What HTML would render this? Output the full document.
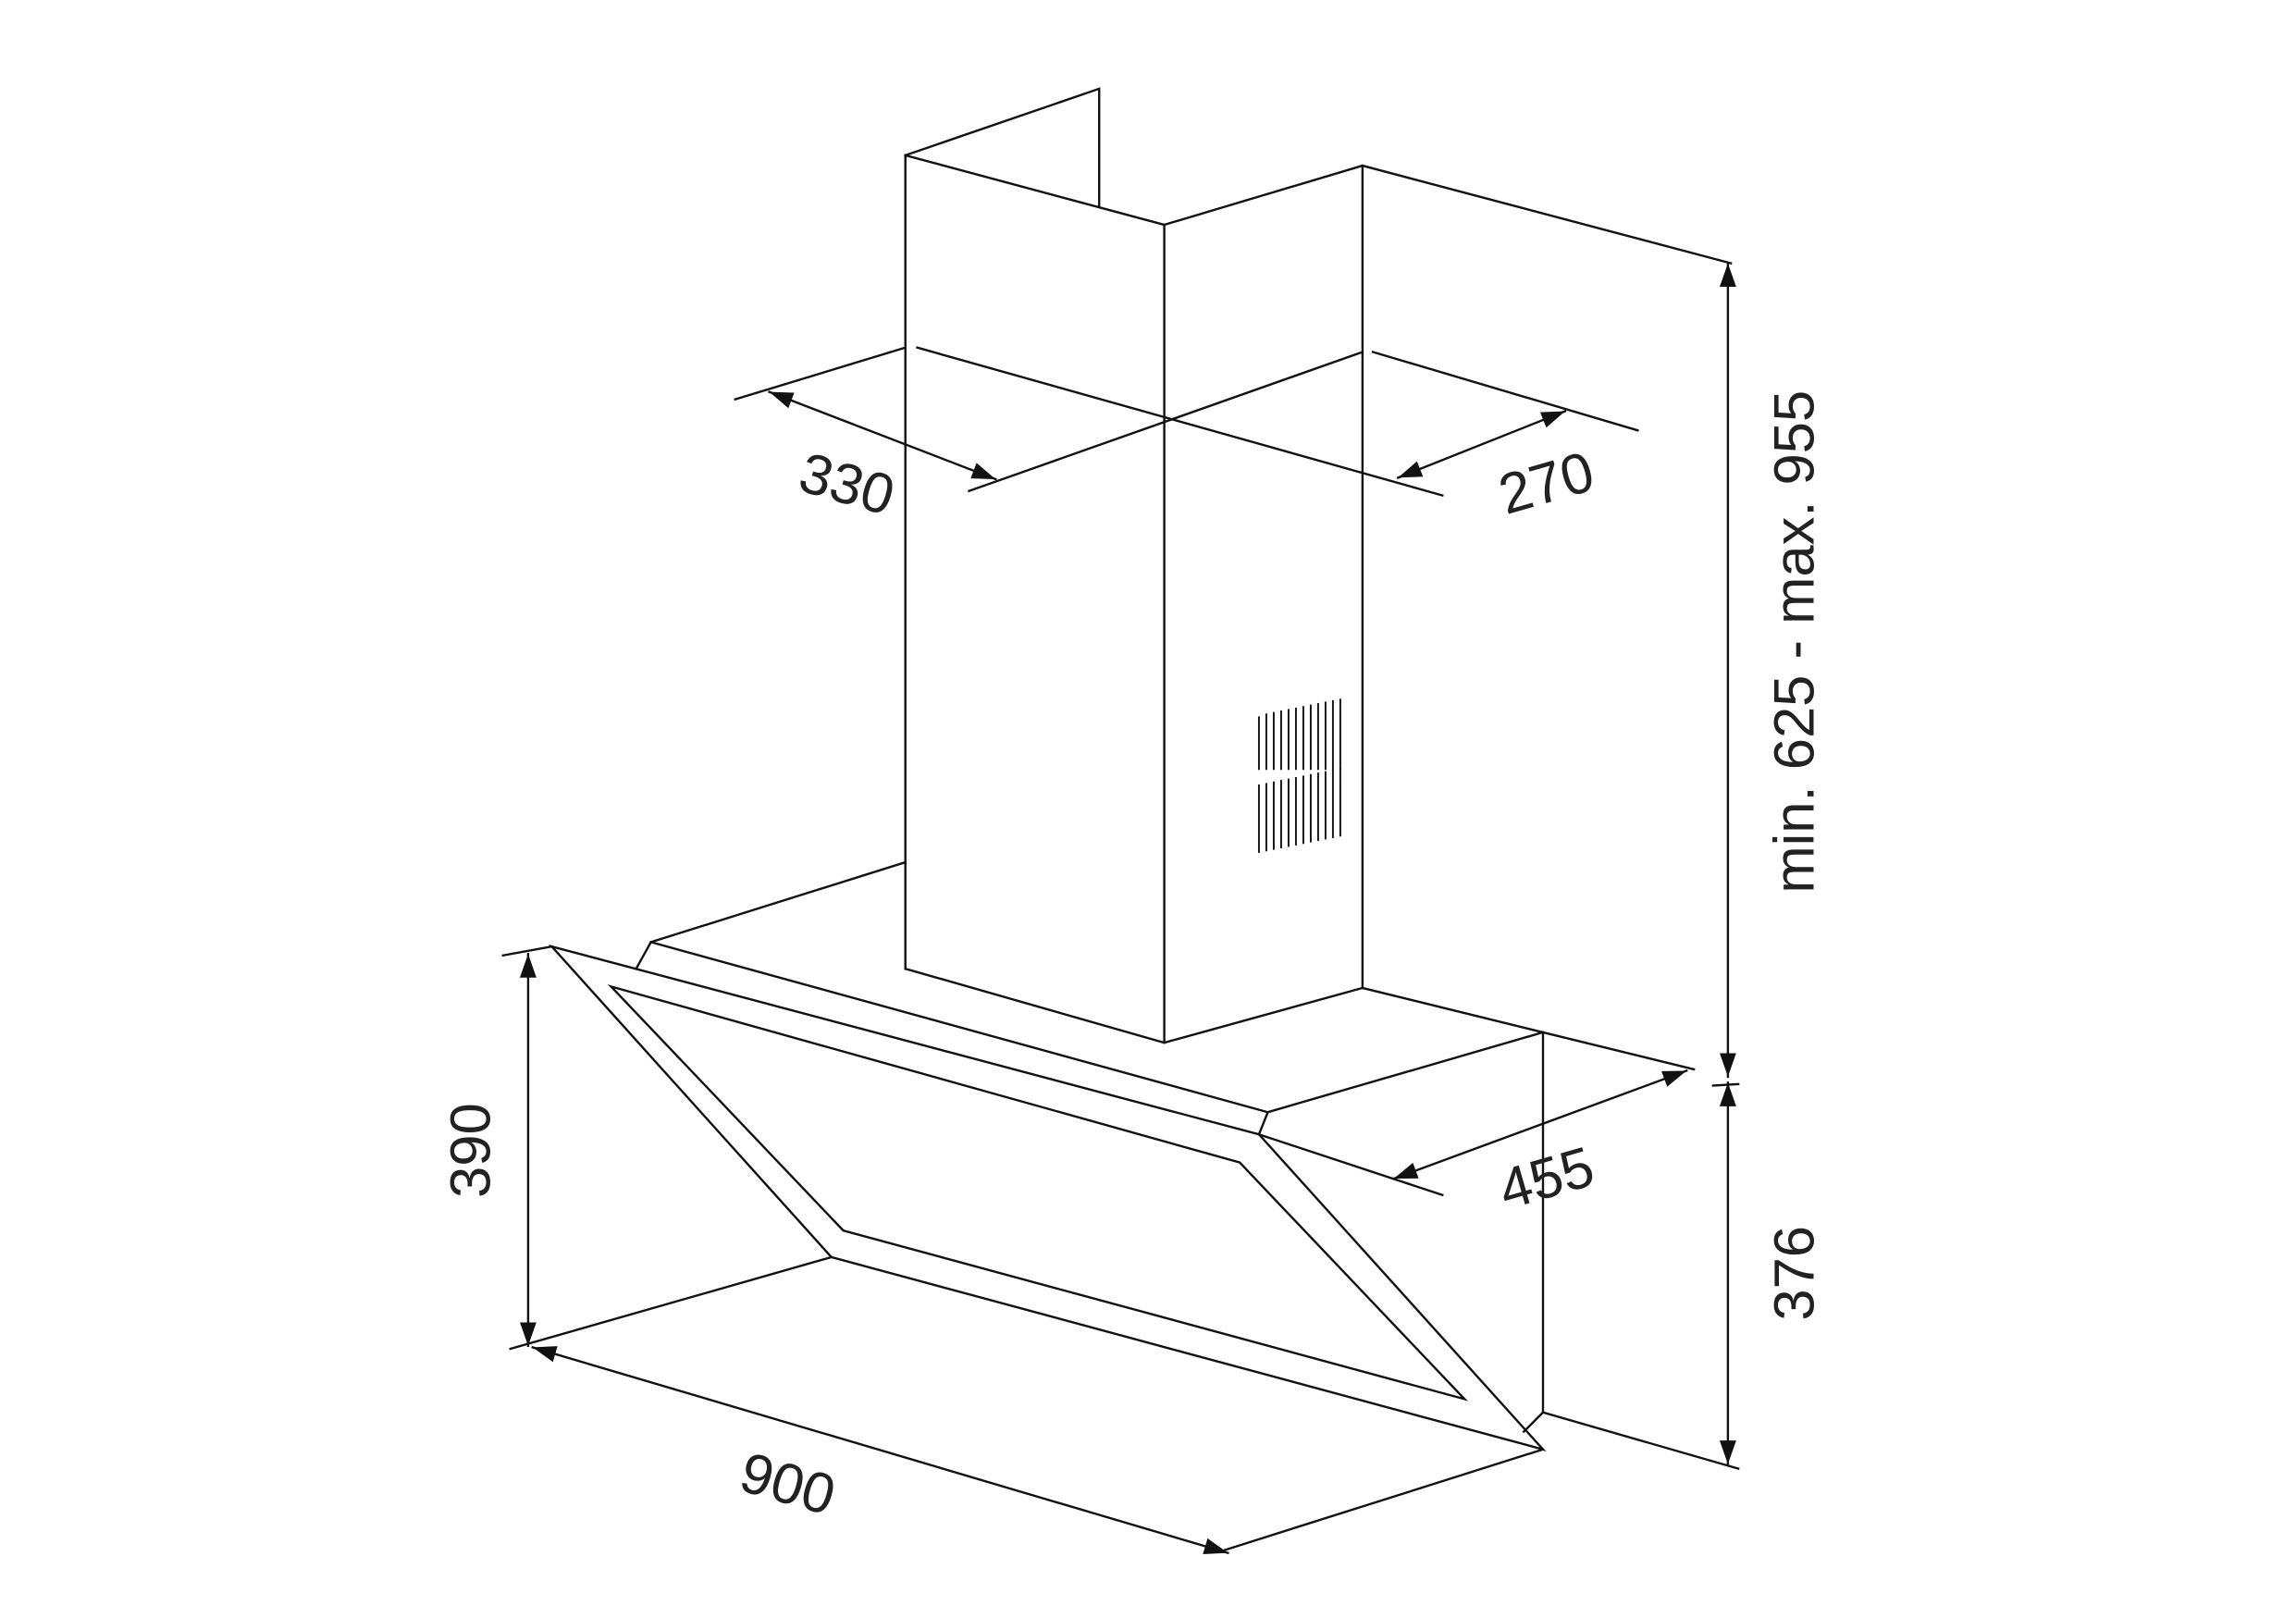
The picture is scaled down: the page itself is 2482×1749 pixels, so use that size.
<!DOCTYPE html>
<html><head><meta charset="utf-8"><style>
html,body{margin:0;padding:0;background:#fff}
svg{display:block}
text{font-family:"Liberation Sans",sans-serif;font-size:38.5px;fill:#222}
</style></head><body>
<svg width="2482" height="1749" viewBox="0 0 1552 1094" preserveAspectRatio="none" xmlns="http://www.w3.org/2000/svg">
<defs>
<marker id="a" viewBox="0 0 10 10" refX="10" refY="5" markerWidth="16" markerHeight="16" markerUnits="userSpaceOnUse" orient="auto-start-reverse"><path d="M0,1.5 L10,5 L0,8.5 z" fill="#111"/></marker>
</defs>
<g stroke="#111" stroke-width="1.5" fill="none" stroke-linecap="square">
<polyline points="612,105 743,60 743,140"/>
<line x1="612" y1="105" x2="612" y2="583"/>
<line x1="612" y1="105" x2="787" y2="152"/>
<polyline points="787,152 921,112 1170,178"/>
<line x1="787" y1="152" x2="787" y2="705"/>
<line x1="921" y1="112" x2="921" y2="668"/>
<line x1="612" y1="583" x2="612" y2="655"/>
<polyline points="612,655 787,705 921,668"/>
<line x1="497" y1="270" x2="612" y2="235"/>
<line x1="620" y1="235" x2="975" y2="335"/>
<line x1="921" y1="238" x2="655" y2="332"/>
<line x1="928" y1="238" x2="1107" y2="291"/>
<g stroke-width="1.2">
<path d="M851,485V520M856,483V520M861,482V520M866,481V520M871,480V520M876,479V520M881,478V520M886,477V520M891,476V520M896,475V520M901,474V520M906,473V520"/>
<path d="M851,531V576M856,530V575M861,529V574M866,528V573M871,527V572M876,526V571M881,525V570M886,524V569M891,523V568M896,522V567M901,521V566M906,520V565"/>
</g>
<line x1="612" y1="583" x2="440" y2="637"/>
<polyline points="430,655 440,637 857,752 851,767"/>
<polyline points="921,668 1043,698 1145,723"/>
<line x1="1043" y1="698" x2="857" y2="752"/>
<line x1="1043" y1="698" x2="1043" y2="955"/>
<polygon points="373,640 851,767 1043,980 562,850"/>
<polygon points="413,667 838,786 990,946 570,832"/>
<line x1="851" y1="767" x2="975" y2="808"/>
<polyline points="1030,968 1043,955 1175,993"/>
<line x1="345" y1="912" x2="562" y2="850"/>
<line x1="828" y1="1048" x2="1043" y2="980"/>
<line x1="340" y1="646" x2="373" y2="640"/>
<line x1="1158" y1="734" x2="1175" y2="733"/>
<g marker-start="url(#a)" marker-end="url(#a)">
<line x1="520" y1="265" x2="673" y2="324"/>
<line x1="945" y1="323" x2="1058" y2="278"/>
<line x1="942" y1="797" x2="1140" y2="724"/>
<line x1="1168" y1="178" x2="1168" y2="728"/>
<line x1="1168" y1="732" x2="1168" y2="990"/>
<line x1="357" y1="645" x2="357" y2="910"/>
<line x1="360" y1="911" x2="830" y2="1050"/>
</g>
</g>
<text transform="translate(538,331) rotate(16)">330</text>
<text transform="translate(1018,348) rotate(-16)">270</text>
<text transform="translate(1018,818) rotate(-16)">455</text>
<text transform="translate(498,1007) rotate(16)">900</text>
<text transform="translate(331,810) rotate(-90)">390</text>
<text transform="translate(1226,893) rotate(-90)">376</text>
<text transform="translate(1226,604) rotate(-90)">min. 625 - max. 955</text>
</svg>
</body></html>
